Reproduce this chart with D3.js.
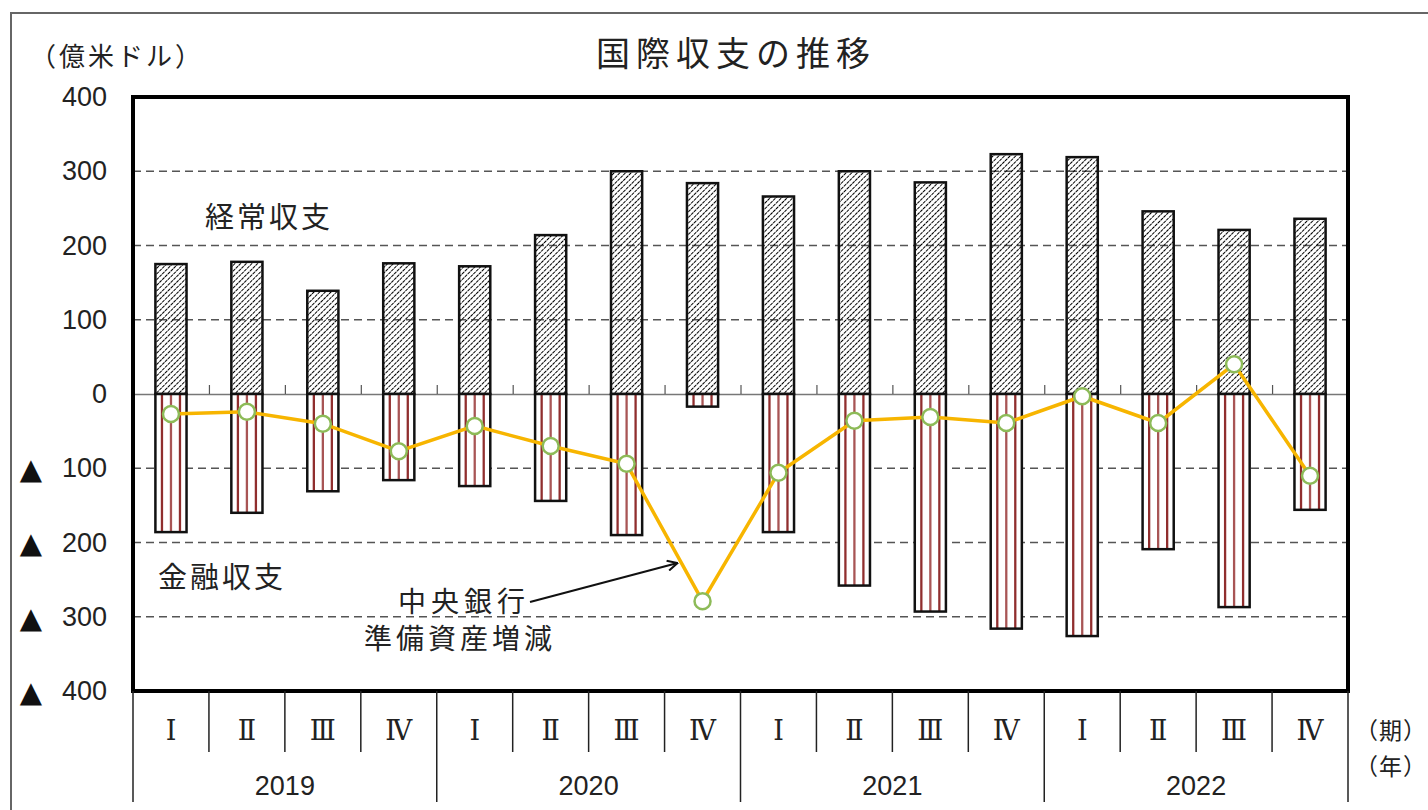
<!DOCTYPE html>
<html>
<head>
<meta charset="utf-8">
<script src="https://cdn.jsdelivr.net/npm/d3@7"></script>
<style>
  body { margin: 0; background: #fff; }
  .jp { font-family: "Noto Sans CJK JP", sans-serif; fill: #222; }
  .num { font-family: "Liberation Sans", Arial, sans-serif; fill: #222; }
</style>
</head>
<body>
<svg id="chart"></svg>
<script>
// data (億米ドル)
const years = ['2019', '2020', '2021', '2022'];
const quarters = ['Ⅰ', 'Ⅱ', 'Ⅲ', 'Ⅳ'];
const currentAccount = [175, 178, 139, 176, 172, 214, 300, 284, 266, 300, 285, 323, 319, 246, 221, 236];
const financialAccount = [-186, -160, -131, -116, -124, -144, -190, -17, -186, -258, -293, -316, -326, -209, -287, -156];
const reserveChange = [-27, -24, -40, -77, -43, -70, -94, -279, -106, -36, -31, -39, -3, -39, 40, -110];
const yTicks = [400, 300, 200, 100, 0, -100, -200, -300, -400];

const W = 1428, H = 810;
const plot = { left: 133, right: 1348, top: 97, bottom: 691 };

const svg = d3.select('#chart').attr('width', W).attr('height', H);

// keys for each quarter
const keys = [];
years.forEach(y => quarters.forEach(q => keys.push(y + '-' + q)));

const x = d3.scaleBand()
    .domain(keys)
    .range([plot.left, plot.right])
    .paddingInner(0.59)
    .paddingOuter(0.295);

const y = d3.scaleLinear()
    .domain([-400, 400])
    .range([plot.bottom, plot.top]);

const cx = i => x(keys[i]) + x.bandwidth() / 2;

// patterns
const defs = svg.append('defs');
defs.append('pattern')
    .attr('id', 'hatch')
    .attr('patternUnits', 'userSpaceOnUse')
    .attr('width', 4).attr('height', 4)
    .attr('patternTransform', 'rotate(45)')
  .append('line')
    .attr('x1', 0).attr('y1', 0).attr('x2', 0).attr('y2', 4)
    .attr('stroke', '#000').attr('stroke-width', 2)
    .attr('stroke-dasharray', '3.2,0.8');

defs.append('marker')
    .attr('id', 'arrow')
    .attr('viewBox', '0 0 12 12')
    .attr('refX', 11).attr('refY', 6)
    .attr('markerWidth', 12).attr('markerHeight', 12)
    .attr('markerUnits', 'userSpaceOnUse')
    .attr('orient', 'auto')
  .append('path')
    .attr('d', 'M1,1 L11,6 L1,11')
    .attr('fill', 'none').attr('stroke', '#111').attr('stroke-width', 2);

// outer frame of the figure
svg.append('path')
    .attr('d', `M11,${H} L11,13 L${W},13`)
    .attr('fill', 'none').attr('stroke', '#666').attr('stroke-width', 2);

// gridlines
svg.append('g')
  .selectAll('line')
  .data(yTicks.filter(d => d !== 0 && Math.abs(d) !== 400))
  .join('line')
    .attr('x1', plot.left).attr('x2', plot.right)
    .attr('y1', d => y(d)).attr('y2', d => y(d))
    .attr('stroke', '#555').attr('stroke-width', 1.5)
    .attr('stroke-dasharray', '8,5');

// zero line with small ticks at quarter boundaries
const bx = d3.scaleLinear().domain([0, keys.length]).range([plot.left, plot.right]);
const zeroAxis = svg.append('g')
    .attr('transform', `translate(0,${y(0)})`)
    .call(d3.axisTop(bx).tickValues(d3.range(1, keys.length)).tickSize(9).tickFormat(''));
zeroAxis.select('.domain').attr('stroke', '#777').attr('stroke-width', 1.5);
zeroAxis.selectAll('.tick line').attr('stroke', '#555').attr('stroke-width', 1.2);

// current account bars (hatched)
svg.append('g')
  .selectAll('rect')
  .data(currentAccount)
  .join('rect')
    .attr('x', (d, i) => x(keys[i]))
    .attr('y', d => y(d))
    .attr('width', x.bandwidth())
    .attr('height', d => y(0) - y(d))
    .attr('fill', 'url(#hatch)')
    .attr('stroke', '#111').attr('stroke-width', 2.5);

// financial account bars (white, vertical red lines)
const fin = svg.append('g')
  .selectAll('g')
  .data(financialAccount)
  .join('g');
fin.append('rect')
    .attr('x', (d, i) => x(keys[i]))
    .attr('y', y(0))
    .attr('width', x.bandwidth())
    .attr('height', d => y(d) - y(0))
    .attr('fill', '#fff');
fin.selectAll('line')
  .data((d, i) => [-9, 0, 9].map(o => ({ v: d, i: i, o: o })))
  .join('line')
    .attr('x1', d => cx(d.i) + d.o).attr('x2', d => cx(d.i) + d.o)
    .attr('y1', y(0)).attr('y2', d => y(d.v))
    .attr('stroke', d => d.o === 0 ? '#a85555' : '#902e2e')
    .attr('stroke-width', 2.3);
fin.append('rect')
    .attr('x', (d, i) => x(keys[i]))
    .attr('y', y(0))
    .attr('width', x.bandwidth())
    .attr('height', d => y(d) - y(0))
    .attr('fill', 'none')
    .attr('stroke', '#111').attr('stroke-width', 2.5);

// reserve line
const line = d3.line()
    .x((d, i) => cx(i))
    .y(d => y(d));
svg.append('path')
    .datum(reserveChange)
    .attr('d', line)
    .attr('fill', 'none')
    .attr('stroke', '#f7b500').attr('stroke-width', 3.5);
svg.append('g')
  .selectAll('circle')
  .data(reserveChange)
  .join('circle')
    .attr('cx', (d, i) => cx(i))
    .attr('cy', d => y(d))
    .attr('r', 8)
    .attr('fill', '#fff')
    .attr('stroke', '#8dbb58').attr('stroke-width', 2.5);

// plot frame
svg.append('rect')
    .attr('x', plot.left).attr('y', plot.top)
    .attr('width', plot.right - plot.left).attr('height', plot.bottom - plot.top)
    .attr('fill', 'none').attr('stroke', '#000').attr('stroke-width', 4);

// y axis labels
const yAxis = svg.append('g')
    .attr('transform', `translate(${plot.left},0)`)
    .call(d3.axisLeft(y).tickValues(yTicks).tickSize(0).tickPadding(26).tickFormat(d => Math.abs(d)));
yAxis.select('.domain').remove();
yAxis.selectAll('text')
    .attr('class', 'num')
    .style('font-size', '27px')
    .attr('fill', '#222');
yAxis.selectAll('.tick')
  .filter(d => d < 0)
  .append('text')
    .attr('x', 31 - plot.left)
    .attr('dy', '0.36em')
    .attr('text-anchor', 'middle')
    .style('font-family', '"DejaVu Sans", sans-serif')
    .style('font-size', '29px')
    .attr('fill', '#111')
    .text('▲');

// bottom category axis (quarters and years)
const catG = svg.append('g');
catG.selectAll('line.q')
  .data(d3.range(0, keys.length + 1))
  .join('line')
    .attr('class', 'q')
    .attr('x1', d => bx(d)).attr('x2', d => bx(d))
    .attr('y1', plot.bottom)
    .attr('y2', d => d % 4 === 0 ? 802 : 752)
    .attr('stroke', '#222').attr('stroke-width', 1.5);
catG.selectAll('text.q')
  .data(keys)
  .join('text')
    .attr('class', 'q')
    .attr('x', (d, i) => cx(i))
    .attr('y', 731)
    .attr('dy', '0.35em')
    .attr('text-anchor', 'middle')
    .style('font-family', '"DejaVu Serif", "Liberation Serif", serif')
    .style('font-size', '27px')
    .attr('fill', '#222')
    .text(d => d.split('-')[1]);
catG.selectAll('text.y')
  .data(years)
  .join('text')
    .attr('class', 'y num')
    .attr('x', (d, i) => bx(i * 4 + 2))
    .attr('y', 786)
    .attr('dy', '0.35em')
    .attr('text-anchor', 'middle')
    .style('font-size', '27px')
    .text(d => d);

// texts
const jpText = (tx, ty, str, size, anchor, spacing) =>
  svg.append('text')
    .attr('class', 'jp')
    .attr('x', tx).attr('y', ty)
    .attr('dy', '0.35em')
    .attr('text-anchor', anchor || 'start')
    .style('font-size', size + 'px')
    .style('letter-spacing', (spacing || 0) + 'px')
    .text(str);

jpText(736, 54, '国際収支の推移', 34, 'middle', 6);
jpText(30, 57, '（億米ドル）', 26, 'start', 3);
jpText(205, 218, '経常収支', 29, 'start', 3);
jpText(158, 578, '金融収支', 29, 'start', 3);
jpText(398, 602, '中央銀行', 28, 'start', 5);
jpText(364, 639, '準備資産増減', 28, 'start', 4);
jpText(1355, 731, '（期）', 23, 'start', 1);
jpText(1355, 767, '（年）', 23, 'start', 1);

// arrow to the reserve line
svg.append('line')
    .attr('x1', 530).attr('y1', 602)
    .attr('x2', cx(7) - 25).attr('y2', 563)
    .attr('stroke', '#111').attr('stroke-width', 2.2)
    .attr('marker-end', 'url(#arrow)');
</script>
</body>
</html>
